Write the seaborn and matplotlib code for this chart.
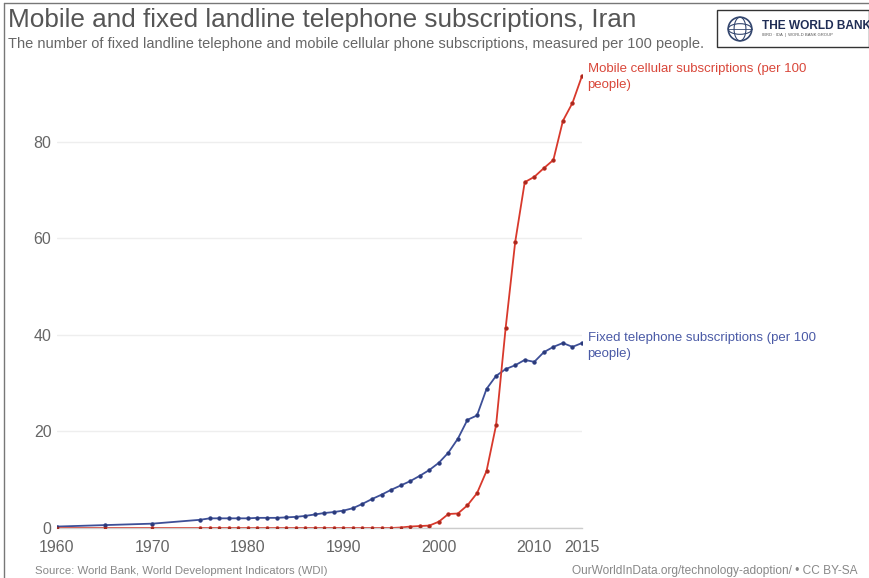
import numpy as np
import pandas as pd
import matplotlib
matplotlib.use("Agg")
import matplotlib.pyplot as plt
from matplotlib.lines import Line2D
from matplotlib.patches import Rectangle, Circle, Ellipse
import seaborn as sns

# ---------------- data ----------------
years = [1960, 1965, 1970] + list(range(1975, 2016))

fixed = [0.3, 0.6, 0.9,
         1.7, 2.0, 2.0, 2.0, 2.0, 2.0, 2.1, 2.1, 2.1, 2.2, 2.3,   # 1975-1985
         2.5, 2.8, 3.1, 3.3, 3.6, 4.1, 5.0, 6.0, 6.9, 7.9,        # 1986-1995
         8.8, 9.7, 10.8, 12.0, 13.5, 15.6, 18.5, 22.4, 23.3,      # 1996-2004
         28.8, 31.5, 32.9, 33.7, 34.8, 34.4, 36.4, 37.5, 38.3,    # 2005-2013
         37.5, 38.3]                                               # 2014-2015

mobile = [0.0, 0.0, 0.0,
          0.0, 0.0, 0.0, 0.0, 0.0, 0.0, 0.0, 0.0, 0.0, 0.0, 0.0,  # 1975-1985
          0.0, 0.0, 0.0, 0.0, 0.0, 0.0, 0.0, 0.0, 0.0, 0.0,       # 1986-1995
          0.1, 0.3, 0.4, 0.5, 1.3, 2.9, 3.0, 4.7, 7.2,             # 1996-2004
          11.8, 21.3, 41.4, 59.2, 71.6, 72.7, 74.5, 76.2, 84.3,    # 2005-2013
          88.0, 93.6]                                               # 2014-2015

series_names = ["Fixed telephone subscriptions (per 100\npeople)",
                "Mobile cellular subscriptions (per 100\npeople)"]
xticks = [1960, 1970, 1980, 1990, 2000, 2010, 2015]
yticks = [0, 20, 40, 60, 80]

title = "Mobile and fixed landline telephone subscriptions, Iran"
subtitle = ("The number of fixed landline telephone and mobile cellular phone "
            "subscriptions, measured per 100 people.")
source = "Source: World Bank, World Development Indicators (WDI)"
credit = "OurWorldInData.org/technology-adoption/ \u2022 CC BY-SA"

# ---------------- styling ----------------
sns.set_theme(style="white")
plt.rcParams["font.family"] = ["Liberation Sans", "DejaVu Sans"]

BLUE = "#3d4f97"
RED = "#d8392c"
BLUE_TXT = "#4a5aa6"
RED_TXT = "#d9473a"

df = pd.DataFrame({
    "year": years * 2,
    "value": fixed + mobile,
    "series": ["fixed"] * len(years) + ["mobile"] * len(years),
})

fig = plt.figure(figsize=(8.70, 5.78), dpi=100)
ax = fig.add_axes([57 / 870, 50 / 578, (582 - 57) / 870, (528 - 74) / 578])

sns.lineplot(data=df, x="year", y="value", hue="series",
             palette={"fixed": BLUE, "mobile": RED},
             marker="o", markersize=3.2, markeredgewidth=0,
             linewidth=1.3, legend=False, ax=ax)
# darker dots on top of the lines
for s, c in [("fixed", "#2b3a78"), ("mobile", "#a52a20")]:
    sub = df[df.series == s]
    ax.scatter(sub.year, sub.value, s=6, color=c, zorder=5, linewidths=0)

ax.set_xlim(1960, 2015)
ax.set_ylim(0, 94)
ax.set_xticks(xticks)
ax.set_yticks(yticks)
ax.set_xlabel("")
ax.set_ylabel("")
ax.tick_params(axis="both", length=0, labelsize=11.5, colors="#666666")
ax.tick_params(axis="x", pad=9)
ax.tick_params(axis="y", pad=4)
for sp in ["top", "right", "left"]:
    ax.spines[sp].set_visible(False)
ax.spines["bottom"].set_color("#cccccc")
ax.spines["bottom"].set_linewidth(1)
ax.yaxis.grid(True, color="#eeeeee", linewidth=1)
ax.set_axisbelow(True)
ax.set_clip_on(False)

# end labels
ax.annotate(series_names[1], xy=(2015, 93.6), xytext=(4, 9),
            textcoords="offset points", color=RED_TXT, fontsize=9.5,
            va="top", ha="left", annotation_clip=False, linespacing=1.4)
ax.annotate(series_names[0], xy=(2015, 38.3), xytext=(4, 8),
            textcoords="offset points", color=BLUE_TXT, fontsize=9.5,
            va="top", ha="left", annotation_clip=False, linespacing=1.4)

# titles
fig.text(8 / 870, 1 - 20 / 578, title, fontsize=18.8, color="#555555",
         va="center", ha="left")
fig.text(8 / 870, 1 - 44 / 578, subtitle, fontsize=10.5, color="#666666",
         va="center", ha="left")

# footer
fig.text(35 / 870, 1 - 571 / 578, source, fontsize=8.2, color="#888888",
         va="center", ha="left")
fig.text(858 / 870, 1 - 571 / 578, credit, fontsize=8.6, color="#888888",
         va="center", ha="right")

# border lines
fig.add_artist(Line2D([4 / 870, 1], [1 - 3 / 578, 1 - 3 / 578],
                      transform=fig.transFigure, color="#777777", lw=1))
fig.add_artist(Line2D([4 / 870, 4 / 870], [0, 1 - 3 / 578],
                      transform=fig.transFigure, color="#777777", lw=1))

# World Bank logo box
fig.add_artist(Rectangle((717 / 870, 1 - 47 / 578), (870 - 718) / 870, 37 / 578,
                         transform=fig.transFigure, facecolor="white",
                         edgecolor="#333333", lw=1, zorder=-1))
gax = fig.add_axes([727 / 870, 1 - 42 / 578, 26 / 870, 26 / 578])
gax.set_zorder(5)
gax.patch.set_visible(False)
gax.set_xlim(-1.1, 1.1)
gax.set_ylim(-1.1, 1.1)
gax.set_aspect("equal")
gax.axis("off")
gax.add_patch(Circle((0, 0), 1, fill=False, edgecolor="#33466e", lw=1.2))
gax.add_patch(Ellipse((0, 0), 1.0, 2, fill=False, edgecolor="#33466e", lw=0.8))
gax.add_patch(Ellipse((0, 0), 2, 0.9, fill=False, edgecolor="#33466e", lw=0.8))
gax.plot([-1, 1], [0, 0], color="#33466e", lw=0.6)
fig.text(762 / 870, 1 - 26 / 578, "THE WORLD BANK", fontsize=8.6,
         fontweight="bold", color="#1f2d55", va="center", ha="left")
fig.text(762 / 870, 1 - 35 / 578, "IBRD \u00b7 IDA  |  WORLD BANK GROUP",
         fontsize=3, color="#555555", va="center", ha="left")

fig.savefig("out.png", dpi=100)
